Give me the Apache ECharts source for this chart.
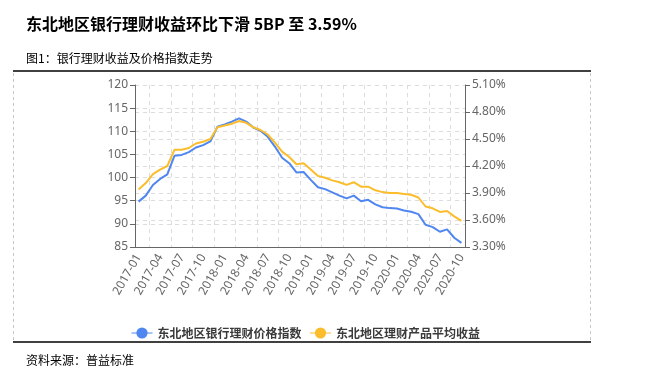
<!DOCTYPE html>
<html><head><meta charset="utf-8">
<script src="https://cdn.jsdelivr.net/npm/echarts@6/dist/echarts.min.js"></script>
<style>html,body{margin:0;padding:0;background:#fff}#c{width:654px;height:372px}</style>
</head><body><div id="c"></div>
<script>
const months = ['2017-01','2017-02','2017-03','2017-04','2017-05','2017-06','2017-07','2017-08','2017-09','2017-10','2017-11','2017-12',
'2018-01','2018-02','2018-03','2018-04','2018-05','2018-06','2018-07','2018-08','2018-09','2018-10','2018-11','2018-12',
'2019-01','2019-02','2019-03','2019-04','2019-05','2019-06','2019-07','2019-08','2019-09','2019-10','2019-11','2019-12',
'2020-01','2020-02','2020-03','2020-04','2020-05','2020-06','2020-07','2020-08','2020-09','2020-10'];
const priceIndex = [94.8,96.1,98.4,99.7,100.7,104.7,104.9,105.5,106.5,107.0,107.8,111.0,
111.5,112.1,112.8,112.1,110.8,110.1,108.8,106.7,104.3,103.1,101.1,101.2,
99.5,97.9,97.5,96.8,96.1,95.5,96.1,94.9,95.2,94.2,93.6,93.4,
93.3,92.9,92.6,92.1,89.8,89.3,88.3,88.8,87.0,85.9];
const avgYield = [3.94,4.01,4.11,4.16,4.20,4.38,4.38,4.40,4.45,4.47,4.50,4.63,
4.65,4.67,4.70,4.68,4.63,4.60,4.55,4.46,4.36,4.30,4.22,4.23,
4.16,4.09,4.07,4.04,4.02,3.99,4.02,3.97,3.97,3.93,3.91,3.90,
3.90,3.89,3.88,3.85,3.75,3.73,3.69,3.70,3.64,3.59];
const seriesNames = ['东北地区银行理财价格指数','东北地区理财产品平均收益'];
const titleText = '东北地区银行理财收益环比下滑 5BP 至 3.59%';
const subTitleText = '图1：银行理财收益及价格指数走势';
const sourceText = '资料来源：普益标准';

const chart = echarts.init(document.getElementById('c'), null, {renderer:'canvas'});
const cjk = '"Noto Sans CJK SC", sans-serif';
const latin = '"Noto Sans", "Noto Sans CJK SC", sans-serif';
const gridDash = {type:[4,4], color:'#dcdcdc', width:1};
chart.setOption({
  animation:false,
  backgroundColor:'#fff',
  title:[
    {text:titleText, left:21, top:11, textStyle:{fontFamily:cjk, fontSize:16, fontWeight:'bold', color:'#000'}},
    {text:subTitleText, left:21, top:47, textStyle:{fontFamily:cjk, fontSize:12, fontWeight:'normal', color:'#000'}},
    {text:sourceText, left:21, top:349, textStyle:{fontFamily:cjk, fontSize:12, fontWeight:'normal', color:'#000'}}
  ],
  graphic:[
    {type:'line', shape:{x1:13,y1:71,x2:591,y2:71}, style:{stroke:'#000', lineWidth:1.5}},
    {type:'line', shape:{x1:13,y1:342,x2:591,y2:342}, style:{stroke:'#000', lineWidth:1.5}},
    {type:'line', shape:{x1:13.5,y1:73,x2:13.5,y2:340}, style:{stroke:'#c8c8c8', lineWidth:1, lineDash:[3,3]}},
    {type:'line', shape:{x1:590.5,y1:73,x2:590.5,y2:340}, style:{stroke:'#c8c8c8', lineWidth:1, lineDash:[3,3]}}
  ],
  legend:{
    data:seriesNames, left:126, top:322, itemWidth:21, itemHeight:14, itemGap:8,
    lineStyle:{width:1},
    textStyle:{fontFamily:cjk, fontSize:12, fontWeight:'bold', color:'#3a3a3a'}
  },
  grid:{left:135, right:189, top:85, bottom:125, containLabel:false},
  xAxis:{
    type:'category', data:months, boundaryGap:true,
    axisLine:{lineStyle:{color:'#666', width:1}},
    axisTick:{alignWithLabel:true, interval:2, length:4, lineStyle:{color:'#666'}},
    axisLabel:{interval:2, rotate:60, margin:8, color:'#666', fontFamily:latin, fontSize:12},
    splitLine:{show:true, interval:function(i){return i%3===2;}, lineStyle:gridDash}
  },
  yAxis:[
    {type:'value', min:85, max:120, interval:5,
     axisLine:{show:true, lineStyle:{color:'#666', width:1}},
     axisTick:{show:true, length:5, lineStyle:{color:'#666'}},
     axisLabel:{margin:7, color:'#666', fontFamily:latin, fontSize:12},
     splitLine:{show:true, lineStyle:gridDash}},
    {type:'value', min:3.3, max:5.1, interval:0.3, position:'right',
     axisLine:{show:true, lineStyle:{color:'#666', width:1}},
     axisTick:{show:true, length:5, lineStyle:{color:'#666'}},
     axisLabel:{margin:7, color:'#666', fontFamily:latin, fontSize:12, formatter:function(v){return v.toFixed(2)+'%';}},
     splitLine:{show:true, lineStyle:gridDash}}
  ],
  series:[
    {name:seriesNames[0], type:'line', yAxisIndex:0, data:priceIndex, symbol:'circle', symbolSize:8, showSymbol:false,
     lineStyle:{width:2, color:'#4f86f0'}, itemStyle:{color:'#4f86f0'}},
    {name:seriesNames[1], type:'line', yAxisIndex:1, data:avgYield, symbol:'circle', symbolSize:8, showSymbol:false,
     lineStyle:{width:2, color:'#fbbd2c'}, itemStyle:{color:'#fbbd2c'}}
  ]
});
</script></body></html>
